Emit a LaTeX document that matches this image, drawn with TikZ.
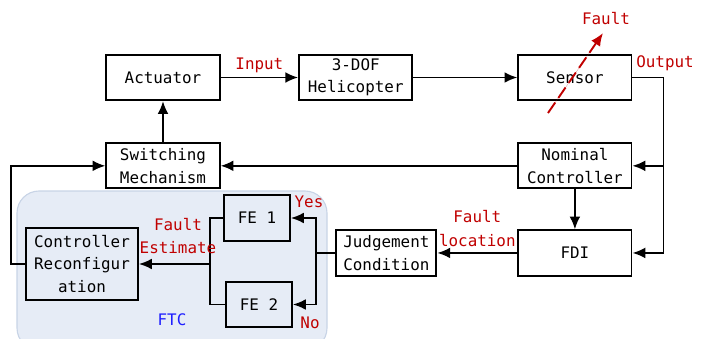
\documentclass[tikz,border=0pt]{standalone}
\usepackage{fontspec}
\setmainfont{DejaVu Sans Mono}
\usepackage{tikz}
\usetikzlibrary{arrows.meta, positioning, calc, backgrounds}
\definecolor{labelred}{HTML}{C00000}
\definecolor{ftcblue}{HTML}{1F1FFF}
\definecolor{ftcfill}{HTML}{E6ECF6}
\definecolor{ftcedge}{HTML}{C8D4E6}

\begin{document}
\begin{tikzpicture}[
        x=0.025cm, y=-0.025cm, line width=1.35pt,
        box/.style={rectangle, draw, line width=1.35pt, align=center, inner sep=1pt,
                    minimum height=1.13cm, minimum width=2.83cm,
                    font=\fontsize{11.3}{16}\selectfont},
        tag/.style={text=labelred, align=center, inner sep=0pt,
                    font=\fontsize{11.3}{16.5}\selectfont},
        line/.style={-{Latex[length=3.2mm, width=2.7mm]}, line width=1.35pt}
    ]
    \useasboundingbox (0,0) rectangle (706,338);
    % main loop
    \node [box] (actuator) at (163,77.5) {Actuator};
    \node [box, right=1.94cm of actuator] (heli) {3-DOF\\Helicopter};
    \node [box, right=2.6cm of heli] (sensor) {Sensor};
    \node [box, below=1.03cm of actuator] (switching) {Switching\\Mechanism};
    \node [box, below=1.03cm of sensor] (nominal) {Nominal\\Controller};
    \node [box, below=1cm of nominal] (fdi) {FDI};
    \node [box, minimum width=2.5cm, left=2cm of fdi] (judge) {Judgement\\Condition};
    % FTC part
    \node [box, minimum width=2.8cm, minimum height=1.8cm] (reconf) at (82,264)
          {Controller\\Reconfigur\\ation};
    \node [box, minimum width=1.65cm] (fe1) at (257,218) {FE 1};
    \node [box, minimum width=1.65cm] (fe2) at (259,304.5) {FE 2};
    \begin{scope}[on background layer]
      \draw [fill=ftcfill, draw=ftcedge, line width=0.8pt, rounded corners=0.55cm]
            (17,191) rectangle (327,350);
    \end{scope}
    \node [text=ftcblue, font=\fontsize{11.3}{12}\selectfont] (ftc) at (172,320) {FTC};

    \draw[line] (actuator) -- (heli) node[tag, midway, above=3pt] {Input};
    \draw[line] (heli) -- (sensor);
    \coordinate (out) at ($(sensor.east)+(31,0)$);
    \draw[line] (sensor.east) -- (out) |- (nominal.east);
    \draw[line] (out) |- (fdi.east);
    \node [tag] (outlbl) at (665,63) {Output};
    \draw[line] (nominal) -- (switching);
    \draw[line] (nominal) -- (fdi);
    \draw[line] (switching) -- (actuator);
    \draw[line] (fdi) -- (judge) node[tag, midway, above=4pt] {Fault\\location};
    \coordinate (split) at ($(judge.west)+(-19,0)$);
    \draw (judge.west) -- (split);
    \draw[line] (split) |- (fe1.east);
    \draw[line] (split) |- (fe2.east);
    \node [tag] (yes) at (309,202) {Yes};
    \node [tag] (no) at (310,323) {No};
    \coordinate (merge) at ($(reconf.east)+(71,0)$);
    \draw (fe1.west) -| (merge) |- (fe2.west);
    \draw[line] (merge) -- (reconf.east);
    \node [tag] (estlbl) at (178,236) {Fault\\Estimate};
    \draw[line] (reconf.west) -- ++(-14,0) |- (switching.west);
    % sensor fault
    \coordinate (fs) at (548,113);
    \coordinate (fe) at (603,33);
    \draw[line, draw=labelred, fill=labelred, dash pattern=on 9pt off 4pt] (fs) -- (fe);
    \node [tag] (faultlbl) at (606,19) {Fault};
  \end{tikzpicture}
\end{document}
